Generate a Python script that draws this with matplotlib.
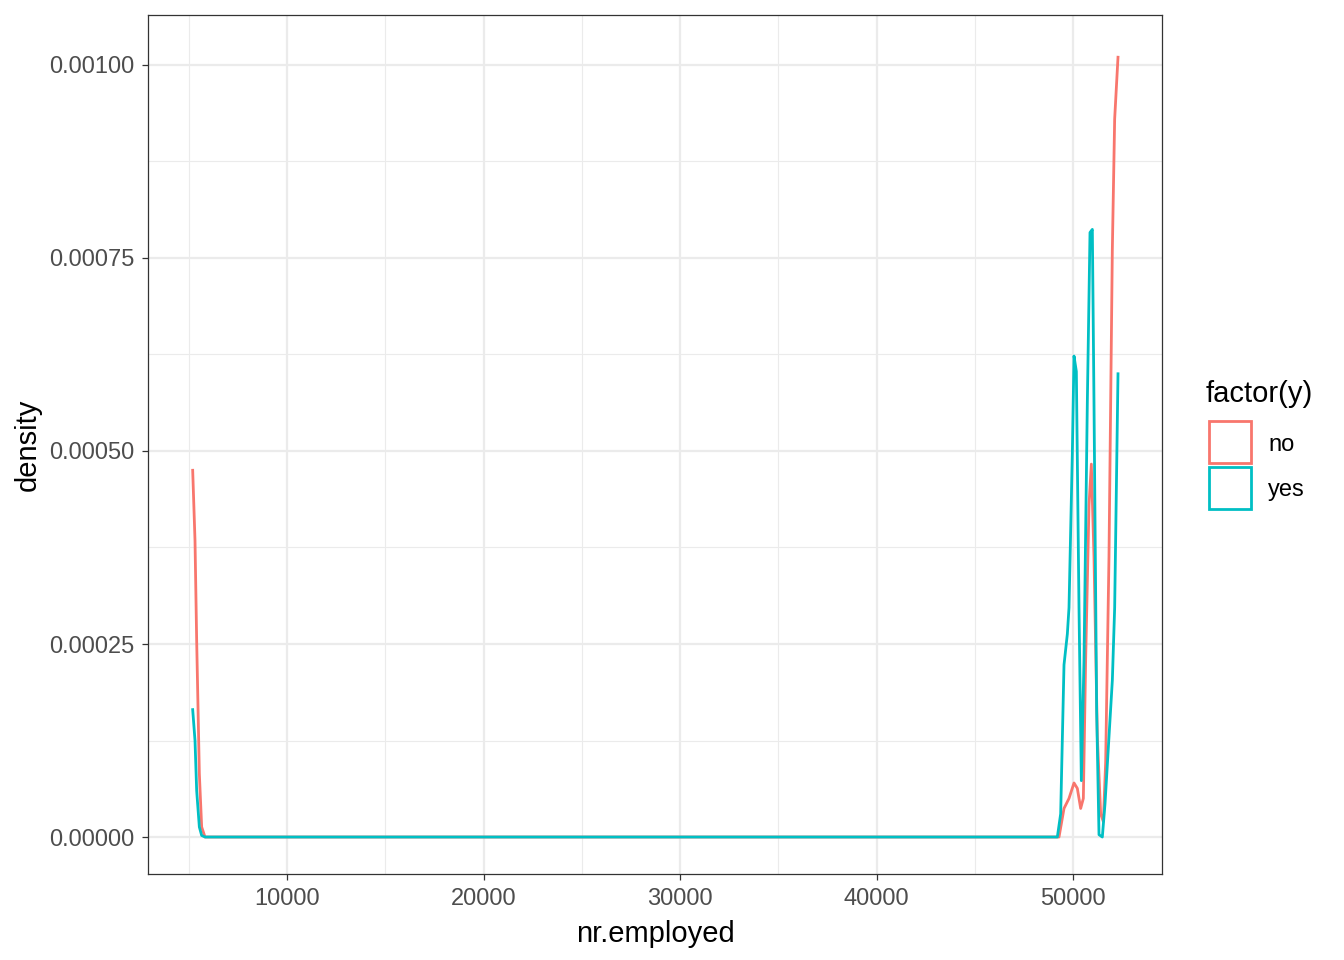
import matplotlib
matplotlib.use("Agg")
import matplotlib.pyplot as plt
from matplotlib.patches import Rectangle
from matplotlib.ticker import FixedLocator

plt.rcParams["font.family"] = ["Liberation Sans", "DejaVu Sans"]

# ---- data ----
no_x = [5200, 5318, 5403, 5539, 5657, 5827, 6500, 20000, 35000, 49000, 49288,
        49542, 49796, 50051, 50220, 50390, 50526, 50644, 50814, 50933, 51068,
        51238, 51407, 51543, 51662, 51831, 52001, 52120, 52290]
no_y = [0.000475, 0.000384, 0.000254, 0.000082, 0.000013, 0.0, 0.0, 0.0, 0.0, 0.0, 0.0,
        0.000037, 0.000050, 0.000070, 0.000063, 0.000037, 0.000050, 0.000230, 0.000430,
        0.000483, 0.000363, 0.000130, 0.000030, 0.000020, 0.000097, 0.000363, 0.000760,
        0.000930, 0.001010]

yes_x = [5200, 5318, 5403, 5539, 5657, 5827, 6500, 20000, 35000, 49000, 49203,
         49372, 49542, 49712, 49796, 49966, 50051, 50170, 50305, 50424, 50560,
         50729, 50865, 50984, 51068, 51204, 51323, 51492, 51628, 52002, 52120, 52290]
yes_y = [0.000165, 0.000125, 0.000060, 0.000013, 0.000002, 0.0, 0.0, 0.0, 0.0, 0.0, 0.0,
         0.000030, 0.000223, 0.000263, 0.000297, 0.000497, 0.000623, 0.000603, 0.000297,
         0.000073, 0.000230, 0.000563, 0.000783, 0.000787, 0.000563, 0.000163, 0.000003,
         0.0, 0.000043, 0.000203, 0.000297, 0.000600]

groups = ["no", "yes"]
colors = ["#F8766D", "#00BFC4"]
x_ticks = [10000, 20000, 30000, 40000, 50000]
y_ticks = [0.0, 0.00025, 0.0005, 0.00075, 0.001]

W, H = 1344, 960
fig = plt.figure(figsize=(W / 100, H / 100), dpi=100)
L, R, T, B = 148, 1162, 15, 874
ax = fig.add_axes([L / W, 1 - B / H, (R - L) / W, (B - T) / H])

def fx(px):
    return px / W

def fy(py):
    return 1 - py / H

ax.plot(no_x, no_y, color=colors[0], lw=2.0, solid_joinstyle="round")
ax.plot(yes_x, yes_y, color=colors[1], lw=2.0, solid_joinstyle="round")

ax.set_xlim(2926, 54529)
ax.set_ylim(-0.0000479, 0.0010647)

ax.xaxis.set_major_locator(FixedLocator(x_ticks))
ax.yaxis.set_major_locator(FixedLocator(y_ticks))
ax.xaxis.set_minor_locator(FixedLocator([5000, 15000, 25000, 35000, 45000]))
ax.yaxis.set_minor_locator(FixedLocator([0.000125, 0.000375, 0.000625, 0.000875]))
ax.set_xticklabels([str(v) for v in x_ticks])
ax.set_yticklabels([f"{v:.5f}" for v in y_ticks])

ax.grid(which="major", color="#EBEBEB", lw=1.6)
ax.grid(which="minor", color="#EBEBEB", lw=0.8)
ax.set_axisbelow(True)
for s in ax.spines.values():
    s.set_color("#333333")
    s.set_linewidth(0.9)
ax.tick_params(which="major", length=4, width=0.9, color="#333333",
               labelsize=17, labelcolor="#4D4D4D")
ax.tick_params(axis="x", pad=6)
ax.tick_params(axis="y", pad=6)
ax.tick_params(which="minor", length=0)

ax.set_xlabel("nr.employed", fontsize=21, labelpad=7)
ax.set_ylabel("density", fontsize=21, labelpad=5)

# legend (drawn manually)
fig.text(fx(1206), fy(394), "factor(y)", fontsize=21, ha="left", va="center")
box_tops = [421, 467]
label_y = [445, 490]
for c, g, bt, ly in zip(colors, groups, box_tops, label_y):
    fig.add_artist(Rectangle((fx(1209), fy(bt + 42)), 42 / W, 42 / H,
                             transform=fig.transFigure, facecolor="white",
                             edgecolor=c, lw=2.0))
    fig.text(fx(1268), fy(ly), g, fontsize=17, ha="left", va="center")

fig.savefig("out.png", dpi=100)
